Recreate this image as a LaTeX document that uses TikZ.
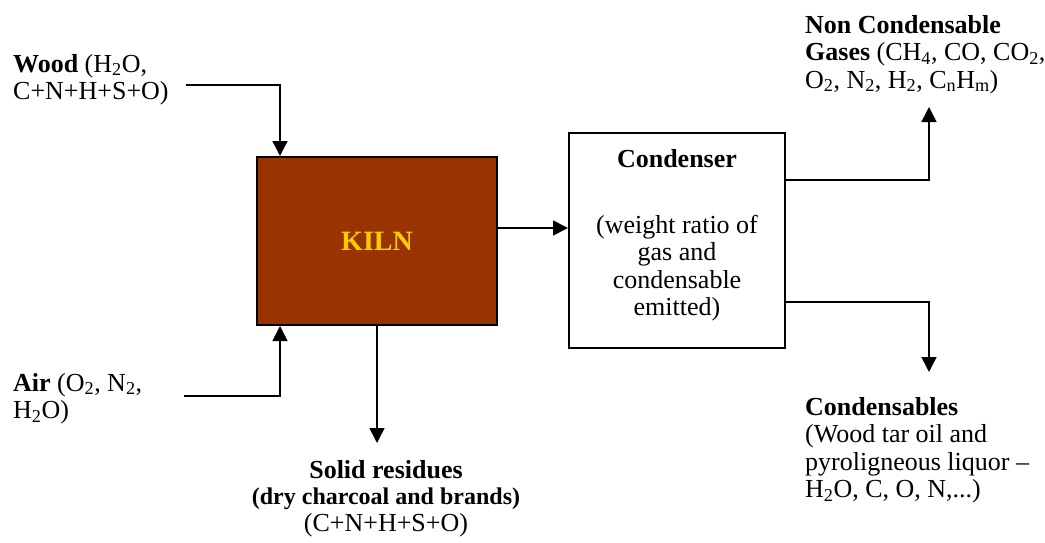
\documentclass[tikz,border=0pt]{standalone}
\usepackage{fontspec}
\setmainfont{Liberation Serif}
\usetikzlibrary{arrows.meta}
\definecolor{kilnred}{HTML}{993300}
\definecolor{kilngold}{HTML}{FFCC00}

\begin{document}
\begin{tikzpicture}[x=1pt, y=-1pt,
	every node/.style={font=\fontsize{26}{27.5}\selectfont, inner sep=0pt},
	label/.style={align=left, anchor=north west},
	box/.style={draw, line width=2pt, minimum width=#1},
	flow/.style={line width=1.6pt, -{Triangle[length=15pt, width=15pt]}}]
		\useasboundingbox (0,0) rectangle (1045,543);
		\node[box=240pt, fill=kilnred, minimum height=168pt] (kiln) at (377,241) {
			\fontsize{28}{32}\selectfont\bfseries\color{kilngold}KILN
		};
		\node[box=216pt, minimum height=215pt, align=center] (condenser) at (677,240.5) {
			\textbf{Condenser}\\[38pt]
			(weight ratio of\\gas and\\condensable\\emitted)\rule[-16pt]{0pt}{16pt}
		};
		\node[label] (wood) at (13,54) {
			\textbf{Wood} (H\textsubscript{2}O,\\C+N+H+S+O)
		};
		\node[label] (air) at (13,373) {
			\textbf{Air} (O\textsubscript{2}, N\textsubscript{2},\\H\textsubscript{2}O)
		};
		\node[label] (gases) at (805,15) {
			\textbf{Non Condensable}\\
			\textbf{Gases} (CH\textsubscript{4}, CO, CO\textsubscript{2},\\
			O\textsubscript{2}, N\textsubscript{2}, H\textsubscript{2}, C\textsubscript{n}H\textsubscript{m})
		};
		\node[label] (condensables) at (805,397) {
			\textbf{Condensables}\\
			(Wood tar oil and\\
			pyroligneous liquor --\\
			H\textsubscript{2}O, C, O, N,...)
		};
		\node[align=center, anchor=north] (residues) at (386,460) {
			\textbf{Solid residues}\\[-1pt]
			{\fontsize{24}{27}\selectfont\bfseries (dry charcoal and brands)}\\[-1pt]
			(C+N+H+S+O)
		};
		\coordinate (woodin) at (186,85);
		\coordinate (airin) at (184,396);
		\coordinate (residuesin) at (377,443);
		\coordinate (gasesin) at (929,107);
		\coordinate (condensablesin) at (929,372);
		\draw[flow] (woodin) -| ([xshift=24pt]kiln.north west);
		\draw[flow] (airin) -| ([xshift=24pt]kiln.south west);
		\draw[flow] (kiln.south) -- (residuesin);
		\draw[flow] ([yshift=13pt]kiln.east) -- ([yshift=13pt]kiln.east -| condenser.west);
		\draw[flow] ([yshift=-48pt]condenser.north east) -| (gasesin);
		\draw[flow] ([yshift=47pt]condenser.south east) -| (condensablesin);
\end{tikzpicture}
\end{document}
